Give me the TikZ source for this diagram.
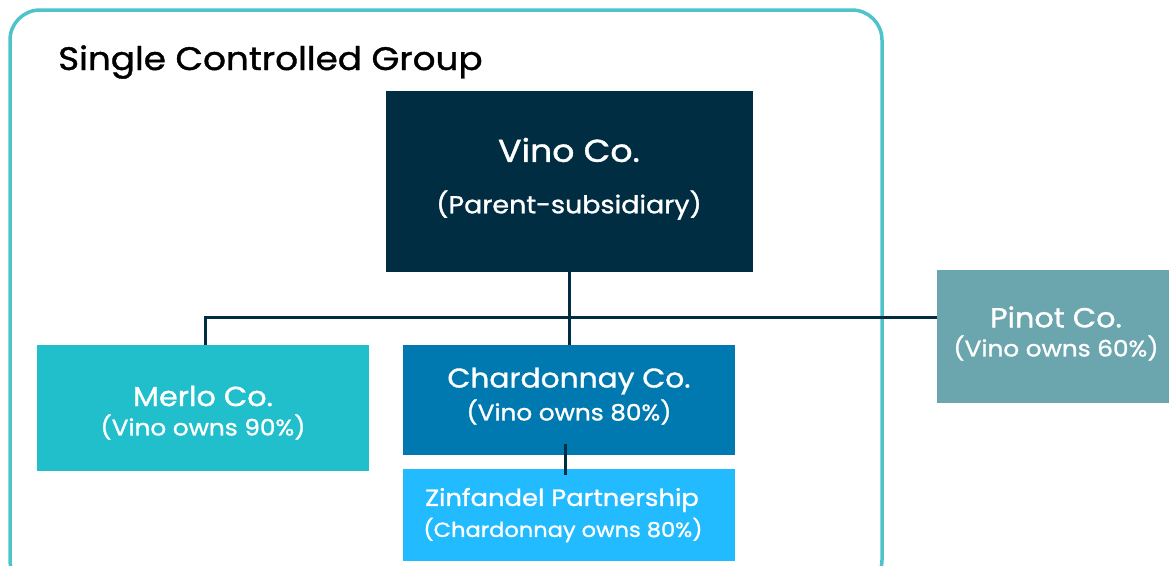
\documentclass[tikz,border=0pt]{standalone}
\usepackage{fontspec}
\setmainfont{Poppins}[FakeStretch=1.1, FakeBold=1.2]
\definecolor{frame}{HTML}{4FC3CB}
\definecolor{navy}{HTML}{002D42}
\definecolor{merlo}{HTML}{21BECB}
\definecolor{chard}{HTML}{0079B0}
\definecolor{zin}{HTML}{22BBFF}
\definecolor{pinot}{HTML}{6BA5AE}
\begin{document}
\begin{tikzpicture}[x=1pt,y=-1pt,
  lbl/.style={text=white, font=\fontsize{27.5}{30}\selectfont},
  sub/.style={text=white, font=\fontsize{22.5}{26}\selectfont},
  link/.style={draw=navy, line width=3pt}]
  \useasboundingbox (0,0) rectangle (1169,565);
  % group frame
  \draw[frame, line width=3.5pt, rounded corners=30pt] (10,10) rectangle (882,590);
  \node[anchor=base west, inner sep=0pt, font=\fontsize{32.5}{36}\selectfont] (title) at (58,70) {Single Controlled Group};
  % company boxes
  \fill[navy] (386,91) rectangle (753,272);
  \coordinate (vinoS) at (569,272);
  \node[text=white, font=\fontsize{31.5}{34}\selectfont] (vino) at (569,150) {Vino Co.};
  \node[text=white, font=\fontsize{24.5}{28}\selectfont] (vinosub) at (569,205) {(Parent-subsidiary)};
  \fill[merlo] (37,345) rectangle (369,471);
  \coordinate (merloN) at (205,345);
  \node[lbl] (merlo) at (203,396) {Merlo Co.};
  \node[sub] (merlosub) at (203,427) {(Vino owns 90\%)};
  \fill[chard] (403,345) rectangle (735,455);
  \coordinate (chardN) at (569,345);
  \coordinate (chardS) at (565,444);
  \node[text=white, font=\fontsize{27}{30}\selectfont] (chard) at (569,381) {Chardonnay Co.};
  \node[sub] (chardsub) at (569,412) {(Vino owns 80\%)};
  \fill[zin] (403,469) rectangle (735,561);
  \coordinate (zinN) at (565,475);
  \node[text=white, font=\fontsize{23.5}{26}\selectfont] (zinf) at (562,500) {Zinfandel Partnership};
  \node[text=white, font=\fontsize{20.5}{24}\selectfont] (zinfsub) at (563,530) {(Chardonnay owns 80\%)};
  \fill[pinot] (937,270) rectangle (1169,403);
  \coordinate (pinotW) at (937,317);
  \node[lbl] (pinot) at (1056,317) {Pinot Co.};
  \node[sub] (pinotsub) at (1056,348) {(Vino owns 60\%)};
  % ownership links
  \draw[link] (vinoS) -- (chardN);
  \draw[link] (merloN) |- (pinotW);
  \draw[link] (chardS) -- (zinN);
\end{tikzpicture}
\end{document}
